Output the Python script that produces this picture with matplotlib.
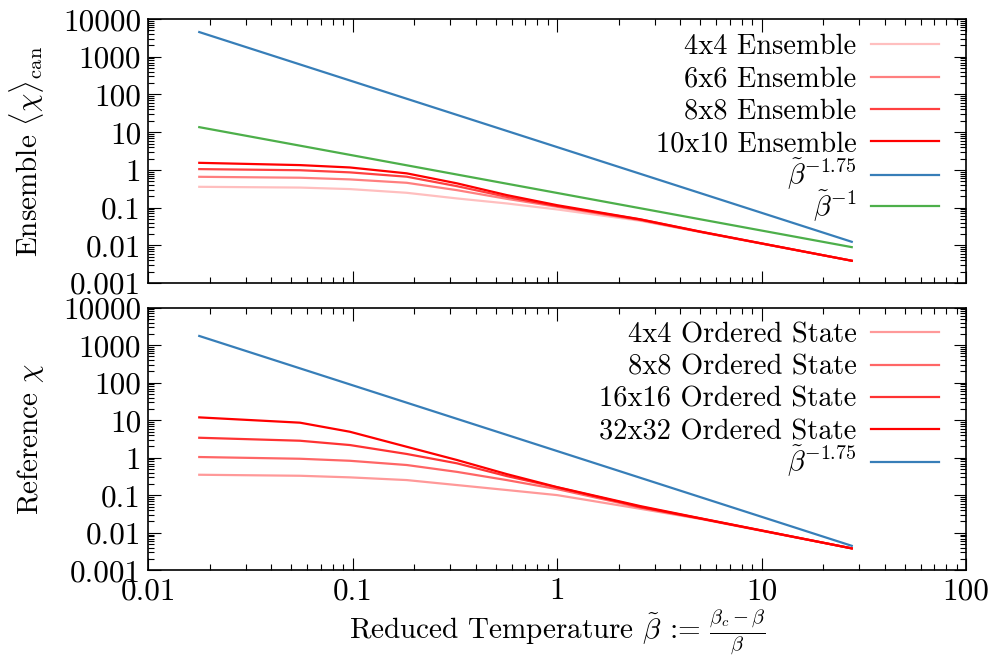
import matplotlib
matplotlib.use("Agg")
import matplotlib.pyplot as plt
from matplotlib.ticker import LogLocator, FixedLocator, FixedFormatter, NullFormatter

plt.rcParams['font.family'] = ['cmr10']
plt.rcParams['mathtext.fontset'] = 'cm'
plt.rcParams['axes.unicode_minus'] = False
plt.rcParams['font.size'] = 20

# reduced temperature grid
bt = [0.0178, 0.0553, 0.097, 0.184, 0.324, 0.567, 1.0, 2.55, 5.0, 27.6]

# top panel: ensemble susceptibility
ens_labels = ['4x4 Ensemble', '6x6 Ensemble', '8x8 Ensemble', '10x10 Ensemble']
ens_vals = [
    [0.356, 0.34, 0.31, 0.247, 0.175, 0.129, 0.0895, 0.0447, 0.0225, 0.0039],
    [0.656, 0.62, 0.56, 0.455, 0.29, 0.171, 0.105, 0.0466, 0.0228, 0.0039],
    [1.05, 0.98, 0.86, 0.66, 0.37, 0.193, 0.110, 0.0486, 0.0230, 0.0039],
    [1.54, 1.34, 1.16, 0.81, 0.44, 0.215, 0.116, 0.0490, 0.0232, 0.0039],
]
ens_alpha = [0.25, 0.5, 0.75, 1.0]

# bottom panel: ordered-state reference
ref_labels = ['4x4 Ordered State', '8x8 Ordered State', '16x16 Ordered State', '32x32 Ordered State']
ref_vals = [
    [0.352, 0.331, 0.30, 0.254, 0.187, 0.138, 0.101, 0.0436, 0.0235, 0.00384],
    [1.045, 0.94, 0.83, 0.64, 0.42, 0.254, 0.146, 0.0475, 0.0240, 0.00384],
    [3.41, 2.84, 2.18, 1.26, 0.71, 0.325, 0.163, 0.0493, 0.0242, 0.00384],
    [11.9, 8.6, 4.93, 1.96, 0.87, 0.367, 0.165, 0.0515, 0.0245, 0.00384],
]
ref_alpha = [0.4, 0.6, 0.8, 1.0]

# power law guides (end points)
pl_x = [0.0178, 27.6]
top_pl175 = [4520, 0.0124]
top_pl1 = [13.6, 0.00895]
bot_pl175 = [1760, 0.0045]

yticks = [0.001, 0.01, 0.1, 1, 10, 100, 1000, 10000]
ytick_labels = ['0.001', '0.01', '0.1', '1', '10', '100', '1000', '10000']
xticks = [0.01, 0.1, 1, 10, 100]
xtick_labels = ['0.01', '0.1', '1', '10', '100']

blue = '#377eb8'
green = '#4daf4a'

fig = plt.figure(figsize=(10.03, 6.55), dpi=100)
ax1 = fig.add_axes([0.1476, 0.5679, 0.8156, 0.403])
ax2 = fig.add_axes([0.1476, 0.1293, 0.8156, 0.401])


def style(ax):
    ax.set_xscale('log')
    ax.set_yscale('log')
    ax.set_xlim(0.01, 100)
    ax.set_ylim(0.001, 10000)
    ax.yaxis.set_major_locator(FixedLocator(yticks))
    ax.yaxis.set_major_formatter(FixedFormatter(ytick_labels))
    ax.yaxis.set_minor_locator(LogLocator(base=10, subs=range(2, 10), numticks=20))
    ax.yaxis.set_minor_formatter(NullFormatter())
    ax.xaxis.set_major_locator(FixedLocator(xticks))
    ax.xaxis.set_major_formatter(FixedFormatter(xtick_labels))
    ax.xaxis.set_minor_locator(LogLocator(base=10, subs=range(2, 10), numticks=20))
    ax.xaxis.set_minor_formatter(NullFormatter())
    ax.tick_params(which='both', direction='in', top=True, right=True, width=0.8)
    ax.tick_params(which='major', length=9, labelsize=22.5, pad=5)
    ax.tick_params(which='minor', length=4.5)
    for s in ax.spines.values():
        s.set_linewidth(1.2)


def legend_block(ax, handles, top_px, spacing):
    return ax.legend(handles=handles, loc='upper right', bbox_to_anchor=(939 / 1003, 1 - top_px / 655),
                     bbox_transform=fig.transFigure, frameon=False, markerfirst=False,
                     handlelength=2.4, handletextpad=0.5, borderpad=0, borderaxespad=0,
                     labelspacing=spacing, fontsize=20.5)


style(ax1)
style(ax2)

red_lines = []
for lab, vals, a in zip(ens_labels, ens_vals, ens_alpha):
    red_lines += ax1.plot(bt, vals, color='red', alpha=a, lw=1.6, label=lab)
pl_lines = ax1.plot(pl_x, top_pl175, color=blue, lw=1.6, label=r'$\tilde\beta^{-1.75}$')
pl_lines += ax1.plot(pl_x, top_pl1, color=green, lw=1.6, label=r'$\tilde\beta^{-1}$')
ax1.tick_params(labelbottom=False)
ax1.set_ylabel(r'Ensemble $\langle\chi\rangle_{\rm can}$', fontsize=21)
ax1.yaxis.set_label_coords(-0.125, 0.5)
leg = legend_block(ax1, red_lines, 34, 0.21)
ax1.add_artist(leg)
legend_block(ax1, pl_lines, 157, -0.15)

red_lines = []
for lab, vals, a in zip(ref_labels, ref_vals, ref_alpha):
    red_lines += ax2.plot(bt, vals, color='red', alpha=a, lw=1.6, label=lab)
pl_lines = ax2.plot(pl_x, bot_pl175, color=blue, lw=1.6, label=r'$\tilde\beta^{-1.75}$')
ax2.set_ylabel(r'Reference $\chi$', fontsize=21)
ax2.yaxis.set_label_coords(-0.125, 0.5)
ax2.set_xlabel(r'Reduced Temperature $\tilde\beta$ := $\frac{\beta_c-\beta}{\beta}$', fontsize=21)
ax2.xaxis.set_label_coords(0.5, -0.14)
leg = legend_block(ax2, red_lines, 322, 0.21)
ax2.add_artist(leg)
legend_block(ax2, pl_lines, 444, -0.09)

fig.savefig('out.png', dpi=100)
